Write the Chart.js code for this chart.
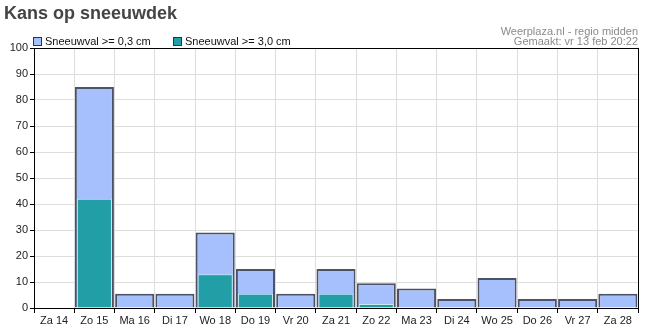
<!DOCTYPE html>
<html>
<head>
<meta charset="utf-8">
<script src="https://cdn.jsdelivr.net/npm/chart.js@4.4.1/dist/chart.umd.min.js"></script>
<style>
  html, body { margin: 0; padding: 0; background: #fff; }
  #wrap { width: 650px; height: 327px; }
</style>
</head>
<body>
<div id="wrap"><canvas id="chart" width="650" height="327"></canvas></div>
<script>
// Data
const days = ['Za 14', 'Zo 15', 'Ma 16', 'Di 17', 'Wo 18', 'Do 19', 'Vr 20', 'Za 21',
              'Zo 22', 'Ma 23', 'Di 24', 'Wo 25', 'Do 26', 'Vr 27', 'Za 28'];
const kans03 = [0, 85, 5.5, 5.5, 29, 15, 5.5, 15, 9.5, 7.5, 3.5, 11.5, 3.5, 3.5, 5.5];
const kans30 = [0, 42, 0, 0, 13, 5.5, 0, 5.5, 1.5, 0, 0, 0, 0, 0, 0];
const credits = ['Weerplaza.nl - regio midden', 'Gemaakt: vr 13 feb 20:22'];

const font = 'Arial, "Liberation Sans", sans-serif';

// Frame round the plot, legend row and the credit lines top right
const framePlugin = {
    id: 'frame',
    afterDraw(chart) {
        const { ctx, chartArea: a } = chart;
        ctx.save();
        ctx.strokeStyle = '#000';
        ctx.lineWidth = 1;
        ctx.strokeRect(Math.round(a.left) + 0.5, Math.round(a.top) + 0.5,
                       Math.round(a.right - a.left), Math.round(a.bottom - a.top));

        // legend
        ctx.font = '11px ' + font;
        ctx.textBaseline = 'middle';
        ctx.textAlign = 'left';
        let x = 33;
        chart.data.datasets.forEach((d) => {
            ctx.fillStyle = d.backgroundColor;
            ctx.fillRect(x, 37, 9, 9);
            ctx.strokeStyle = '#333';
            ctx.strokeRect(x + 0.5, 37.5, 8, 8);
            ctx.fillStyle = '#111';
            ctx.fillText(d.label, x + 12, 42);
            x += 140;
        });

        ctx.fillStyle = '#8a8a8a';
        ctx.textAlign = 'right';
        ctx.fillText(credits[0], 638, 32);
        ctx.fillText(credits[1], 638, 42);
        ctx.restore();
    }
};

const ctx = document.getElementById('chart').getContext('2d');
const chart = new Chart(ctx, {
    type: 'bar',
    data: {
        labels: days,
        datasets: [
            {
                label: 'Sneeuwval >= 0,3 cm',
                data: kans03,
                backgroundColor: '#a6bffd',
                borderColor: '#4c5367',
                borderWidth: 2,
                barPercentage: 0.97,
                categoryPercentage: 1,
                grouped: false,
                order: 1,
            },
            {
                label: 'Sneeuwval >= 3,0 cm',
                data: kans30,
                backgroundColor: '#219ea6',
                borderColor: '#c4ecec',
                borderWidth: 1,
                barPercentage: 0.87,
                categoryPercentage: 1,
                grouped: false,
                order: 0,
            },
        ],
    },
    options: {
        responsive: false,
        animation: false,
        layout: { padding: { left: 4, right: 12, top: 0, bottom: 0 } },
        plugins: {
            tooltip: { enabled: false },
            legend: { display: false },
            title: {
                display: true,
                text: 'Kans op sneeuwdek',
                align: 'start',
                color: '#444',
                font: { family: font, size: 18, weight: 'bold', lineHeight: 1.2 },
                padding: { top: 3, bottom: 23.4 },
            },
        },
        scales: {
            x: {
                grid: { color: '#dddddd', tickColor: '#000', tickLength: 5, offset: true },
                border: { color: '#000' },
                ticks: { color: '#222', font: { family: font, size: 11 }, padding: 1, maxRotation: 0 },
                afterFit: (s) => { s.height = 19; },
            },
            y: {
                min: 0,
                max: 100,
                grid: { color: '#dddddd', tickColor: '#000', tickLength: 4 },
                border: { color: '#000' },
                ticks: { stepSize: 10, color: '#222', font: { family: font, size: 11 }, padding: 2 },
                afterFit: (s) => { s.width = 30; },
            },
        },
    },
    plugins: [framePlugin],
});
</script>
</body>
</html>
